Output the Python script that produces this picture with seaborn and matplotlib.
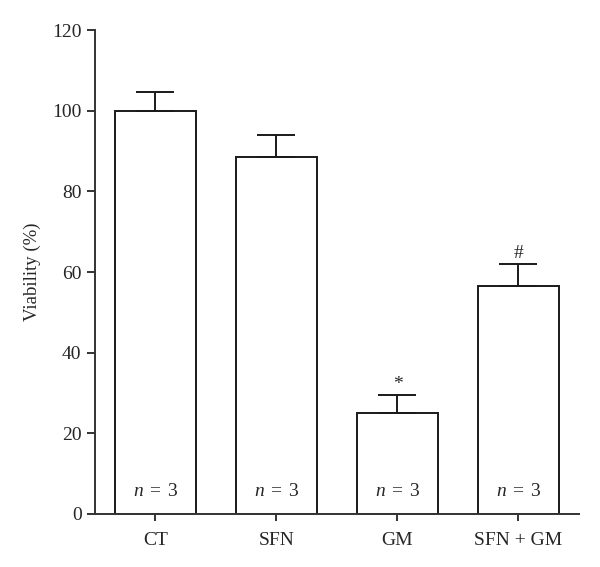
import numpy as np
import pandas as pd
import matplotlib
matplotlib.use("Agg")
import matplotlib.pyplot as plt
import seaborn as sns

# Data
groups = ["CT", "SFN", "GM", "SFN + GM"]
viability = [100.0, 88.5, 25.0, 56.6]
sem = [4.6, 5.5, 4.5, 5.4]
marks = ["", "", "*", "#"]
n_labels = [r"$n\;=\;3$"] * 4


def plot_data(data):
    sns.set_style("ticks")
    plt.rcParams["font.family"] = ["Liberation Serif", "DejaVu Serif"]
    plt.rcParams["mathtext.fontset"] = "custom"
    plt.rcParams["mathtext.rm"] = "Liberation Serif"
    plt.rcParams["mathtext.it"] = "Liberation Serif:italic"

    fig = plt.figure(figsize=(6, 5.67), dpi=100)
    ax = fig.add_axes([0.158, 0.0935, 0.807, 0.8535])
    edge = "#1a1a1a"

    sns.barplot(data=data, x="group", y="viability", color="white",
                edgecolor=edge, linewidth=1.4, width=0.67, errorbar=None, ax=ax)
    # upward error bars only
    x = np.arange(len(data))
    ax.errorbar(x, data["viability"], yerr=[np.zeros(len(data)), data["sem"]],
                fmt="none", ecolor=edge, elinewidth=1.4, capsize=14, capthick=1.4)

    for i, row in data.iterrows():
        top = row["viability"] + row["sem"]
        if row["mark"]:
            ax.text(i, top + 0.4, row["mark"], ha="center", va="bottom", fontsize=14)
        ax.text(i, 3.5, row["n"], ha="center", va="bottom", fontsize=14)

    ax.set_xlim(-0.5, 3.5)
    ax.set_ylim(0, 120)
    ax.set_yticks(range(0, 121, 20))
    ax.set_xlabel("")
    ax.set_ylabel("Viability (%)", fontsize=13.5, labelpad=8)
    ax.tick_params(axis="both", labelsize=14, color="#333333", width=1.4, length=6)
    ax.tick_params(axis="x", length=5, pad=8)
    for s in ["left", "bottom"]:
        ax.spines[s].set_linewidth(1.4)
        ax.spines[s].set_color("#333333")
    sns.despine(ax=ax)
    fig.savefig("out.png", dpi=100)


def main():
    data = pd.DataFrame({"group": groups, "viability": viability, "sem": sem,
                         "mark": marks, "n": n_labels})
    plot_data(data)


if __name__ == "__main__":
    main()
